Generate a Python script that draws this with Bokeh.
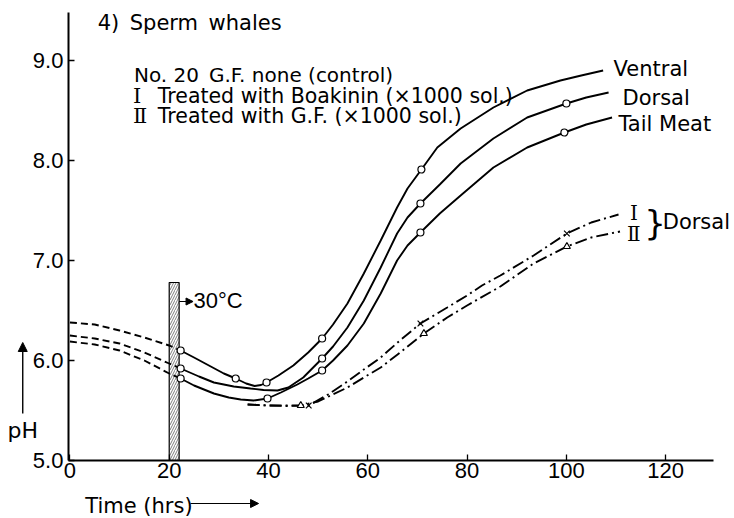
from bokeh.plotting import figure
from bokeh.models import Range1d, FixedTicker, Label, Arrow, NormalHead
from bokeh.embed import file_html
from bokeh.resources import INLINE

# ---------------- data: pH of sperm whale meat vs. time (hrs) ----------------
x_ticks = [0, 20, 40, 60, 80, 100, 120]
y_ticks = [5.0, 6.0, 7.0, 8.0, 9.0]
y_tick_labels = ["5.0", "6.0", "7.0", "8.0", "9.0"]

# period of transfer to 30 °C
transfer_start = 20
transfer_end = 22

# No. 20, G.F. none (control) -- before transfer (dashed)
pre_hours = [0, 5, 10, 15, 20, 22.3]
pre_ventral = [6.38, 6.36, 6.30, 6.23, 6.15, 6.10]
pre_dorsal = [6.25, 6.22, 6.17, 6.08, 5.97, 5.92]
pre_tail = [6.19, 6.16, 6.10, 6.00, 5.87, 5.82]

# control -- after transfer (solid)
ventral_hours = [22.3, 25, 28, 31, 33.4, 35.5, 37.2, 38.5, 39.6, 42, 45, 48, 50.8, 53,
                 55.9, 59.2, 62.6, 65.9, 68, 70.8, 74, 78.7, 85.3, 92.1, 98.8, 103, 107.4]
ventral_ph = [6.10, 6.03, 5.95, 5.87, 5.82, 5.77, 5.745, 5.755, 5.78, 5.85, 5.95, 6.08, 6.22, 6.36,
              6.57, 6.87, 7.20, 7.53, 7.72, 7.91, 8.13, 8.32, 8.53, 8.70, 8.80, 8.85, 8.90]

dorsal_hours = [22.3, 26, 29, 33, 36.4, 39, 41.8, 44, 47, 50.8, 53, 55.9, 59.2, 62.6,
                65.9, 68, 70.6, 74.5, 78.7, 85.3, 92.1, 100, 104, 108.5]
dorsal_ph = [5.92, 5.84, 5.78, 5.74, 5.72, 5.705, 5.70, 5.73, 5.83, 6.02, 6.14, 6.33, 6.60, 6.93,
             7.27, 7.43, 7.57, 7.76, 7.97, 8.22, 8.43, 8.57, 8.63, 8.68]

tail_hours = [22.3, 25, 29, 32, 34.4, 37, 39.8, 42.5, 45.8, 48, 50.8, 53, 55.9, 59.2, 62.6,
              65.9, 68, 70.6, 74.5, 78.7, 85.3, 92.1, 99.6, 104, 109.2]
tail_ph = [5.82, 5.75, 5.67, 5.63, 5.61, 5.60, 5.62, 5.68, 5.76, 5.82, 5.90, 6.00, 6.15, 6.37, 6.67,
           7.00, 7.15, 7.28, 7.47, 7.65, 7.93, 8.13, 8.28, 8.36, 8.43]

# measured points (open circles)
ventral_pt_hours = [22.3, 33.4, 39.6, 50.8, 70.8]
ventral_pt_ph = [6.10, 5.82, 5.78, 6.22, 7.91]
dorsal_pt_hours = [22.3, 50.8, 70.6, 100]
dorsal_pt_ph = [5.92, 6.02, 7.57, 8.57]
tail_pt_hours = [22.3, 39.8, 50.8, 70.6, 99.6]
tail_pt_ph = [5.82, 5.62, 5.90, 7.28, 8.28]

# I: treated with Boakinin, II: treated with G.F. (dorsal, dash-dot)
boak_hours = [35.8, 40, 44, 48.1, 52, 55.9, 59.2, 62.6, 66, 70.6, 76, 80, 83, 86.7,
              93.4, 100.1, 105, 110.5]
boak_ph = [5.56, 5.55, 5.545, 5.55, 5.66, 5.79, 5.91, 6.03, 6.18, 6.37, 6.53, 6.65, 6.75, 6.85,
           7.05, 7.27, 7.38, 7.46]
gf_hours = [35.8, 40, 46.5, 50, 55.9, 59.2, 62.6, 66, 71.3, 76, 80, 86.7, 93.4, 100.1, 105, 110.8]
gf_ph = [5.56, 5.55, 5.55, 5.59, 5.73, 5.83, 5.93, 6.06, 6.27, 6.43, 6.55, 6.74, 6.97, 7.14,
         7.23, 7.29]

boak_pt_hours = [48.1, 70.6, 100.1]
boak_pt_ph = [5.55, 6.37, 7.27]
gf_pt_hours = [46.5, 71.3, 100.1]
gf_pt_ph = [5.55, 6.27, 7.14]

part_labels = ["Ventral", "Dorsal", "Tail Meat"]
title_text = "4)\u2002Sperm\u2002whales"
key_lines = ["No. 20\u2002G.F. none (control)",
             "Treated with Boakinin (\u00d71000 sol.)",
             "Treated with G.F. (\u00d71000 sol.)"]
numerals = ["\u2160", "\u2161"]

# ---------------- figure ----------------
FONT = "DejaVu Sans"
TICK_FONT = "Liberation Sans"
NUM_FONT = "DejaVu Serif"

# The frame fills the whole canvas; axes are pinned at x = -0.3 h and pH 5.0.
p = figure(width=734, height=518, output_backend="svg", toolbar_location=None,
           x_range=Range1d(-13.98, 133.86), y_range=Range1d(4.42, 9.60),
           min_border=0, min_border_left=0, min_border_right=0,
           min_border_top=0, min_border_bottom=0,
           background_fill_color="white", border_fill_color="white")
p.outline_line_color = None
p.xgrid.visible = False
p.ygrid.visible = False

for ax in (p.xaxis[0], p.yaxis[0]):
    ax.axis_line_width = 2
    ax.axis_line_color = "black"
    ax.major_tick_in = 6
    ax.major_tick_out = 0
    ax.minor_tick_in = 0
    ax.minor_tick_out = 0
    ax.major_tick_line_width = 1.3
    ax.major_label_text_font = TICK_FONT
    ax.major_label_text_font_size = "22px"
    ax.major_label_text_color = "black"

p.xaxis.ticker = FixedTicker(ticks=x_ticks)
p.xaxis.fixed_location = 5.0
p.xaxis.bounds = (-0.3, 129.6)
p.xaxis.major_label_standoff = 2
p.yaxis.ticker = FixedTicker(ticks=y_ticks)
p.yaxis.major_label_overrides = dict(zip(y_ticks, y_tick_labels))
p.yaxis.fixed_location = -0.3
p.yaxis.bounds = (5.0, 9.48)
p.yaxis.major_label_standoff = 5

# hatched bar marking the transfer to 30 °C
p.quad(left=[transfer_start], right=[transfer_end], bottom=[5.0], top=[6.78],
       fill_color="white", line_color="black", line_width=1.2,
       hatch_pattern="/", hatch_color="black", hatch_scale=5, hatch_weight=0.5)

LW = 1.9
for ys in (pre_ventral, pre_dorsal, pre_tail):
    p.line(pre_hours, ys, line_color="black", line_width=LW, line_dash="7 4")

for xs, ys in ((ventral_hours, ventral_ph), (dorsal_hours, dorsal_ph), (tail_hours, tail_ph)):
    p.line(xs, ys, line_color="black", line_width=LW)

for xs, ys in ((boak_hours, boak_ph), (gf_hours, gf_ph)):
    p.line(xs, ys, line_color="black", line_width=LW, line_dash="12 4 2 4")

for xs, ys in ((ventral_pt_hours, ventral_pt_ph), (dorsal_pt_hours, dorsal_pt_ph),
               (tail_pt_hours, tail_pt_ph)):
    p.scatter(xs, ys, marker="circle", size=7, fill_color="white",
              line_color="black", line_width=1.2)

p.scatter(boak_pt_hours, boak_pt_ph, marker="x", size=8, line_color="black", line_width=1.2)
p.scatter(gf_pt_hours, gf_pt_ph, marker="triangle", size=7, fill_color="white",
          line_color="black", line_width=1.2)


def label(x, y, text, size="21px", font=FONT, align="left", baseline="middle"):
    p.add_layout(Label(x=x, y=y, text=text, text_font=font, text_font_size=size,
                       text_color="black", text_align=align, text_baseline=baseline))


# headings and key
label(5.6, 9.38, title_text, size="21px")
label(12.9, 8.86, key_lines[0], size="20px")
label(12.7, 8.65, numerals[0], size="21px", font=NUM_FONT)
label(17.7, 8.65, key_lines[1], size="20.5px")
label(12.7, 8.45, numerals[1], size="21px", font=NUM_FONT)
label(17.7, 8.45, key_lines[2], size="20.5px")

# curve names at the right
label(109.5, 8.92, part_labels[0], size="21px")
label(111.3, 8.63, part_labels[1], size="21px")
label(110.5, 8.37, part_labels[2], size="21px")

label(113.6, 7.48, numerals[0], size="20px", font=NUM_FONT, align="center")
label(113.6, 7.27, numerals[1], size="20px", font=NUM_FONT, align="center")
label(115.7, 7.38, "}", size="34px", font="DejaVu Sans")
label(119.4, 7.39, part_labels[1], size="21px")

# 30 °C marker
p.add_layout(Arrow(end=NormalHead(size=7, fill_color="black", line_color="black"),
                   x_start=transfer_end, y_start=6.59, x_end=24.8, y_end=6.59,
                   line_color="black", line_width=1.2))
label(24.9, 6.60, "30\u00b0C", size="22px", font=TICK_FONT)

# axis titles with arrows
label(-9.5, 5.30, "pH", size="22px", align="center")
p.add_layout(Arrow(end=NormalHead(size=9, fill_color="black", line_color="black"),
                   x_start=-9.5, y_start=5.47, x_end=-9.5, y_end=6.18,
                   line_color="black", line_width=1.4))
label(3.1, 4.55, "Time (hrs)", size="21px")
p.add_layout(Arrow(end=NormalHead(size=8, fill_color="black", line_color="black"),
                   x_start=24.3, y_start=4.57, x_end=38.0, y_end=4.57,
                   line_color="black", line_width=1.2))

open("out.html", "w").write(file_html(p, INLINE))
